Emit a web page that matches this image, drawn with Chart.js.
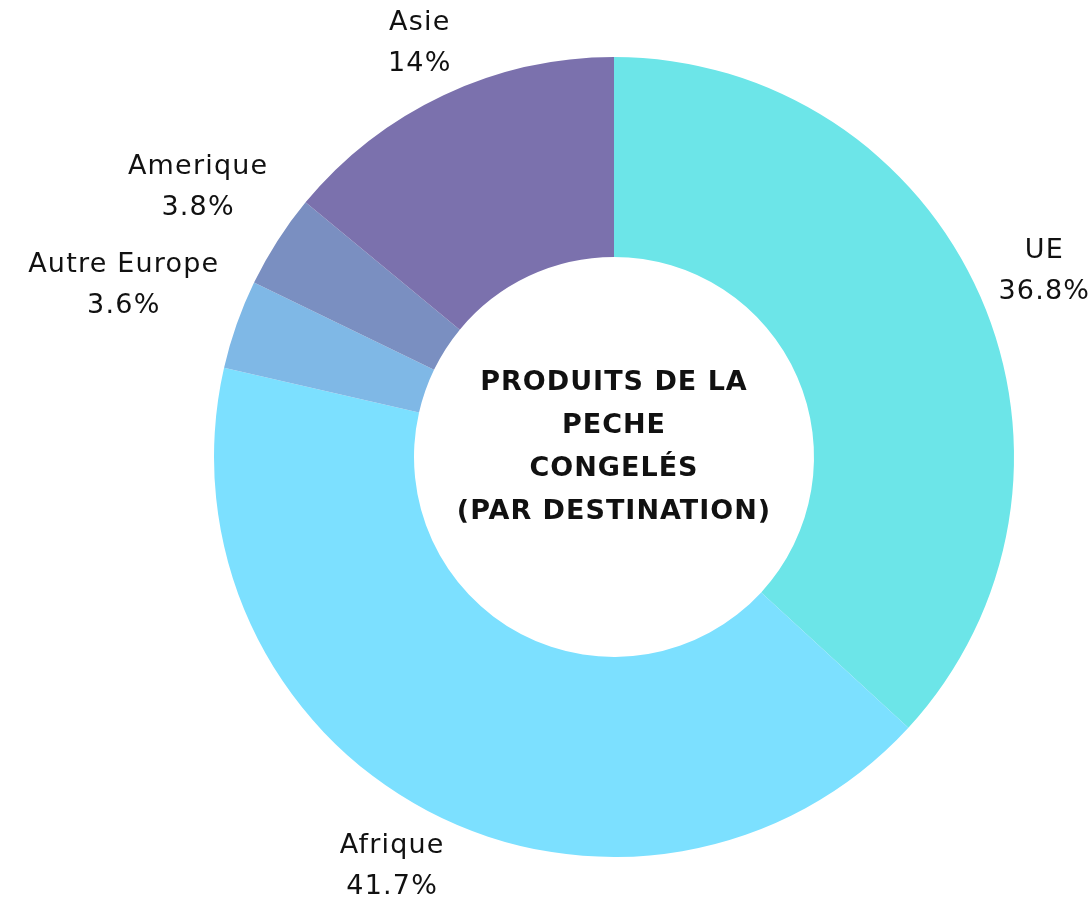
<!DOCTYPE html>
<html>
<head>
<meta charset="utf-8">
<script src="https://cdn.jsdelivr.net/npm/chart.js@4"></script>
<style>
  html, body { margin: 0; padding: 0; background: #ffffff; }
  #wrap { width: 1091px; height: 909px; position: relative; }
</style>
</head>
<body>
<div id="wrap"><canvas id="destChart" width="1091" height="909"></canvas></div>
<script>
// Data
const destinations = ["UE", "Afrique", "Autre Europe", "Amerique", "Asie"];
const shares = [36.8, 41.7, 3.6, 3.8, 14];
const shareLabels = ["36.8%", "41.7%", "3.6%", "3.8%", "14%"];
const sliceColors = ["#6ce5e8", "#7ce0ff", "#7fb8e6", "#7a8fc1", "#7b71ad"];
const centerLines = ["PRODUITS DE LA", "PECHE", "CONGELÉS", "(PAR DESTINATION)"];

const labelFont = "27px 'DejaVu Sans', sans-serif";
const titleFont = "bold 27px 'DejaVu Sans', sans-serif";
// small slices get their labels lifted a bit so they don't crowd each other
const labelLift = [0, 0, -19, -20, 4];

// Draws name + percentage outside each slice, and the title in the hole
const outsideLabels = {
    id: "outsideLabels",
    afterDatasetsDraw(chart) {
        const ctx = chart.ctx;
        const meta = chart.getDatasetMeta(0);
        ctx.save();
        ctx.fillStyle = "#111111";
        ctx.textAlign = "center";
        ctx.textBaseline = "middle";
        ctx.font = labelFont;
        ctx.letterSpacing = "1.2px";

        meta.data.forEach((arc, i) => {
            const mid = (arc.startAngle + arc.endAngle) / 2;
            const cosA = Math.cos(mid);
            const sinA = Math.sin(mid);
            const r = arc.outerRadius + 24;
            const w = Math.max(ctx.measureText(destinations[i]).width, ctx.measureText(shareLabels[i]).width);
            const halfW = w / 2;
            const halfH = 38;
            const x = arc.x + r * cosA + halfW * cosA;
            const y = arc.y + r * sinA + halfH * sinA + labelLift[i];
            ctx.fillText(destinations[i], x, y - 20);
            ctx.fillText(shareLabels[i], x, y + 21);
        });

        // center title
        const cx = meta.data[0].x;
        const cy = meta.data[0].y;
        ctx.font = titleFont;
        ctx.letterSpacing = "1px";
        const lineH = 43;
        const top = cy - 10 - lineH * (centerLines.length - 1) / 2;
        centerLines.forEach((line, i) => {
            ctx.fillText(line, cx, top + i * lineH);
        });
        ctx.restore();
    }
};

new Chart(document.getElementById("destChart").getContext("2d"), {
    type: "doughnut",
    data: {
        labels: destinations,
        datasets: [{
            data: shares,
            backgroundColor: sliceColors,
            borderWidth: 0
        }]
    },
    options: {
        responsive: false,
        animation: false,
        cutout: "50%",
        layout: {
            padding: { left: 214, right: 77, top: 57, bottom: 52 }
        },
        plugins: {
            legend: { display: false },
            tooltip: { enabled: false }
        }
    },
    plugins: [outsideLabels]
});
</script>
</body>
</html>
